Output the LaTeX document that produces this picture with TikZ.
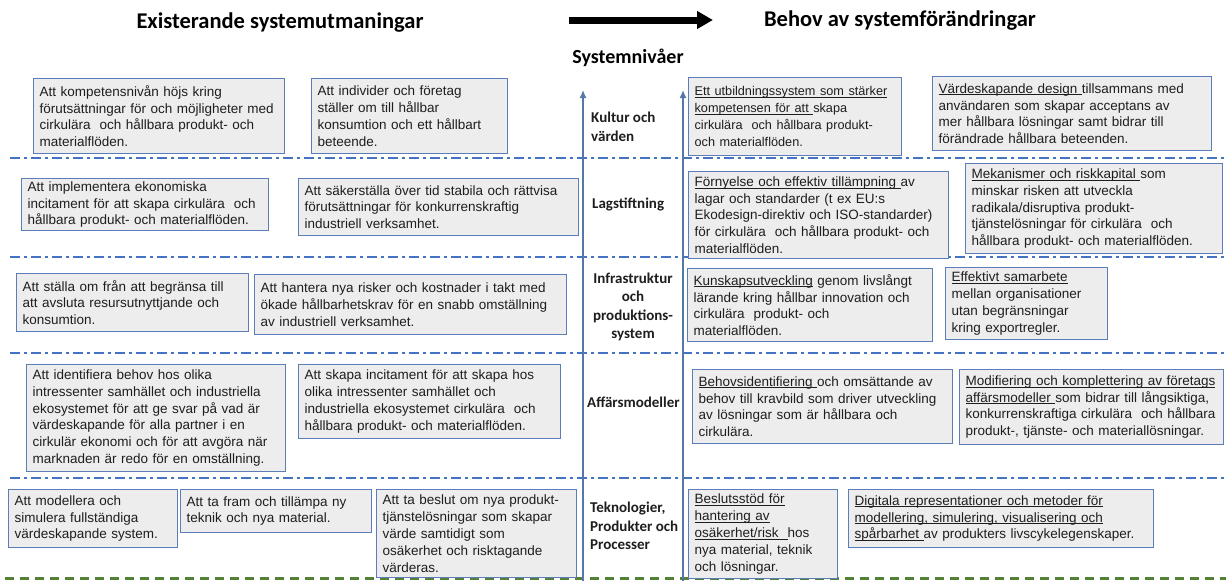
\documentclass[tikz,border=0pt]{standalone}
\usepackage{fontspec}
\setmainfont{Liberation Sans}
\newfontfamily\carlito{Carlito}
\usetikzlibrary{arrows.meta}
\definecolor{lineblue}{HTML}{4472C4}
\definecolor{boxblue}{HTML}{5B7DB8}
\definecolor{boxfill}{HTML}{EDEDED}
\definecolor{arrowblue}{HTML}{5577AA}
\definecolor{dgreen}{HTML}{548235}
\definecolor{txt}{HTML}{1E1E1E}
\newsavebox{\ulbox}
\newcommand{\myul}[1]{\leavevmode\sbox{\ulbox}{#1}\rlap{\rule[-1.8pt]{\wd\ulbox}{0.6pt}}\usebox{\ulbox}}
\newcommand{\mybox}[6]{%
  \pgfmathsetmacro{\bw}{#4-#2}%
  \pgfmathsetmacro{\bh}{#5-#3}%
  \pgfmathsetmacro{\tw}{#4-#2-12}%
  \node[cbox, minimum width=\bw pt, minimum height=\bh pt, text width=\tw pt] (#1) at (#2,#3) {#6};}
\tikzset{
  cbox/.style={draw=boxblue, line width=1.2pt, fill=boxfill, inner xsep=6pt, inner ysep=2pt,
    align=left, text=txt, font=\fontsize{13.5}{16.8}\selectfont, anchor=north west},
  sepline/.style={draw=lineblue, line width=2.6pt, dash pattern=on 10pt off 4pt on 3pt off 4pt},
  greenline/.style={draw=dgreen, line width=3pt, dash pattern=on 9pt off 6pt},
  varrow/.style={draw=arrowblue, line width=1.4pt, -{Latex[length=8pt,width=7pt]}},
  lvl/.style={font=\carlito\bfseries\fontsize{15}{18.5}\selectfont, align=left, inner sep=0pt, text=txt},
  title/.style={font=\carlito\bfseries\fontsize{22.5}{26}\selectfont, inner sep=0pt, text=black},
}
\begin{document}
\begin{tikzpicture}[x=1pt,y=-1pt]
\useasboundingbox (0,0) rectangle (1226,581);
\fill[white] (0,0) rectangle (1226,581);

% separator lines
\coordinate (s1a) at (10,158);  \coordinate (s1b) at (1226,158);
\coordinate (s2a) at (10,257);  \coordinate (s2b) at (1226,257);
\coordinate (s3a) at (10,353);  \coordinate (s3b) at (1226,353);
\coordinate (s4a) at (10,478);  \coordinate (s4b) at (1226,478);
\coordinate (g1a) at (5,578);   \coordinate (g1b) at (1226,578);
\draw[sepline] (s1a) -- (s1b);
\draw[sepline] (s2a) -- (s2b);
\draw[sepline] (s3a) -- (s3b);
\draw[sepline] (s4a) -- (s4b);
\draw[greenline] (g1a) -- (g1b);

% vertical arrows
\coordinate (v1b) at (583,581); \coordinate (v1t) at (583,90);
\coordinate (v2b) at (683,581); \coordinate (v2t) at (683,90);
\draw[varrow] (v1b) -- (v1t);
\draw[varrow] (v2b) -- (v2t);

% headers
\node[title] (tl) at (280,23) {Existerande systemutmaningar};
\node[title] (tr) at (900,21) {Behov av systemförändringar};
\node[font=\carlito\bfseries\fontsize{20}{24}\selectfont, inner sep=0pt] (sn) at (628,58) {Systemnivåer};
\coordinate (ha) at (569,20); \coordinate (hb) at (713,20);
\draw[line width=7pt, -{Triangle[length=16pt,width=17pt]}] (ha) -- (hb);

% level labels
\node[lvl, anchor=west] (kult) at (591,127) {Kultur och\\värden};
\node[lvl, anchor=west] (lag) at (592,204) {Lagstiftning};
\node[lvl, align=center] (infra) at (633,307) {Infrastruktur\\och\\produktions-\\system};
\node[lvl, anchor=west] (aff) at (587,402) {Affärsmodeller};
\node[lvl, anchor=west] (tek) at (590,526) {Teknologier,\\Produkter och\\Processer};

% left boxes
\mybox{a1}{33}{78}{284}{153}{Att kompetensnivån höjs kring\\förutsättningar för och möjligheter med\\cirkulära\ \ och hållbara produkt- och\\materialflöden.}
\mybox{a2}{311}{78}{507}{153}{Att individer och företag\\ställer om till hållbar\\konsumtion och ett hållbart\\beteende.}
\mybox{b1}{21}{178}{268}{230}{Att implementera ekonomiska\\incitament för att skapa cirkulära\ \ och\\hållbara produkt- och materialflöden.}
\mybox{b2}{298}{178}{578}{235}{Att säkerställa över tid stabila och rättvisa\\förutsättningar för konkurrenskraftig\\industriell verksamhet.}
\mybox{c1}{16}{273}{248}{331}{Att ställa om från att begränsa till\\att avsluta resursutnyttjande och\\konsumtion.}
\mybox{c2}{254}{274}{566}{334}{Att hantera nya risker och kostnader i takt med\\ökade hållbarhetskrav för en snabb omställning\\av industriell verksamhet.}
\mybox{d1}{26}{364}{285}{471}{Att identifiera behov hos olika\\intressenter samhället och industriella\\ekosystemet för att ge svar på vad är\\värdeskapande för alla partner i en\\cirkulär ekonomi och för att avgöra när\\marknaden är redo för en omställning.}
\mybox{d2}{298}{364}{560}{438}{Att skapa incitament för att skapa hos\\olika intressenter samhället och\\industriella ekosystemet cirkulära\ \ och\\hållbara produkt- och materialflöden.}
\mybox{e1}{8}{489}{177}{547}{Att modellera och\\simulera fullständiga\\värdeskapande system.}
\mybox{e2}{180}{489}{371}{532}{Att ta fram och tillämpa ny\\teknik och nya material.}
\mybox{e3}{376}{489}{576}{577}{Att ta beslut om nya produkt-\\tjänstelösningar som skapar\\värde samtidigt som\\osäkerhet och risktagande\\värderas.}

% right boxes
\mybox{f1}{688}{77}{901}{155}{\fontsize{12.7}{16.8}\selectfont\myul{Ett utbildningssystem som stärker}\\\myul{kompetensen för att }skapa\\cirkulära\ \ och hållbara produkt-\\och materialflöden.}
\mybox{f2}{932}{76}{1211}{150}{\myul{Värdeskapande design }tillsammans med\\användaren som skapar acceptans av\\mer hållbara lösningar samt bidrar till\\förändrade hållbara beteenden.}
\mybox{g1}{688}{171}{948}{258}{\myul{Förnyelse och effektiv tillämpning }av\\lagar och standarder (t ex EU:s\\Ekodesign-direktiv och ISO-standarder)\\för cirkulära\ \ och hållbara produkt- och\\materialflöden.}
\mybox{g2}{965}{163}{1222}{253}{\myul{Mekanismer och riskkapital }som\\minskar risken att utveckla\\radikala/disruptiva produkt-\\tjänstelösningar för cirkulära\ \ och\\hållbara produkt- och materialflöden.}
\mybox{h1}{687}{268}{932}{341}{\myul{Kunskapsutveckling} genom livslångt\\lärande kring hållbar innovation och\\cirkulära\ \ produkt- och\\materialflöden.}
\mybox{h2}{945}{267}{1107}{339}{\myul{Effektivt samarbete}\\mellan organisationer\\utan begränsningar\\kring exportregler.}
\mybox{i1}{692}{369}{952}{443}{\myul{Behovsidentifiering }och omsättande av\\behov till kravbild som driver utveckling\\av lösningar som är hållbara och\\cirkulära.}
\mybox{i2}{959}{369}{1223}{444}{\myul{Modifiering och komplettering av företags}\\\myul{affärsmodeller }som bidrar till långsiktiga,\\konkurrenskraftiga cirkulära\ \ och hållbara\\produkt-, tjänste- och materiallösningar.}
\mybox{j1}{688}{489}{837}{578}{\myul{Beslutsstöd för}\\\myul{hantering av}\\\myul{osäkerhet/risk\ \ }hos\\nya material, teknik\\och lösningar.}
\mybox{j2}{848}{489}{1153}{547}{\myul{Digitala representationer och metoder för}\\\myul{modellering, simulering, visualisering och}\\\myul{spårbarhet }av produkters livscykelegenskaper.}
\end{tikzpicture}
\end{document}
